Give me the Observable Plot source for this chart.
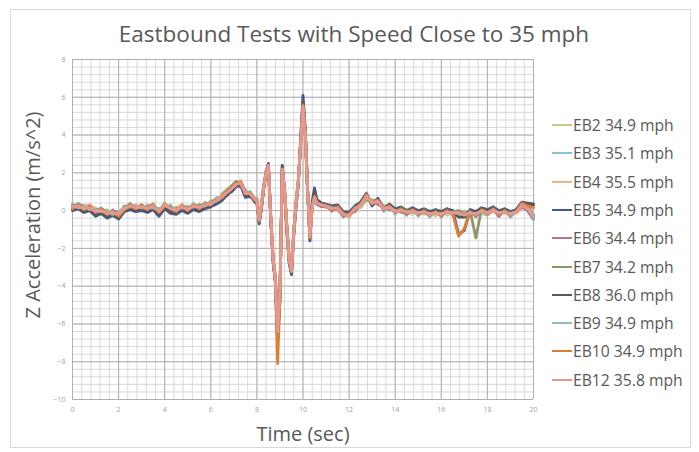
<!DOCTYPE html>
<html><head><meta charset="utf-8">
<script src="https://cdn.jsdelivr.net/npm/d3@7"></script>
<script src="https://cdn.jsdelivr.net/npm/@observablehq/plot@0.6"></script>
<style>
body{margin:0;background:#fff;font-family:"Open Sans",sans-serif;}
#wrap{position:relative;width:699px;height:452px;overflow:hidden;background:#fff;}
#frame{position:absolute;left:10px;top:9px;width:681px;height:439px;border:1px solid #d9d9d9;box-sizing:border-box;}
#chart{position:absolute;left:0;top:0;}
#title{position:absolute;left:354px;top:33px;transform:translate(-50%,-50%);font-size:22.5px;color:#595959;white-space:nowrap;}
#ylab{position:absolute;left:32px;top:215px;transform:translate(-50%,-50%) rotate(-90deg);font-size:20px;color:#595959;white-space:nowrap;}
#xlab{position:absolute;left:303px;top:433px;transform:translate(-50%,-50%);font-size:20px;color:#595959;white-space:nowrap;}
.leg{position:absolute;left:552px;height:20px;display:flex;align-items:center;font-size:15.7px;color:#595959;white-space:nowrap;transform:translateY(-50%);}
.leg span.sw{display:inline-block;width:20px;height:2px;margin-right:1px;}
</style></head>
<body>
<div id="wrap">
  <div id="frame"></div>
  <div id="chart"></div>
  <div id="title">Eastbound Tests with Speed Close to 35 mph</div>
  <div id="ylab">Z Acceleration (m/s^2)</div>
  <div id="xlab">Time (sec)</div>
  <div id="legend"></div>
</div>
<script>
const xTicks = [0,2,4,6,8,10,12,14,16,18,20];
const yTicks = [-10,-8,-6,-4,-2,0,2,4,6,8];
const seriesNames = ["EB2 34.9 mph","EB3 35.1 mph","EB4 35.5 mph","EB5 34.9 mph","EB6 34.4 mph","EB7 34.2 mph","EB8 36.0 mph","EB9 34.9 mph","EB10 34.9 mph","EB12 35.8 mph"];
const seriesColors = ["#c3cd86","#86c2de","#f2b484","#46588a","#b87490","#8d9868","#585858","#8cbcbc","#dc7f36","#e9968f"];

const times = [0,0.25,0.5,0.75,1,1.25,1.5,1.75,2,2.25,2.5,2.75,3,3.25,3.5,3.75,4,4.25,4.5,4.75,5,5.25,5.5,5.75,6,6.25,6.5,
 6.7,6.9,7.1,7.3,7.5,7.7,
 7.8,7.9,8,8.1,8.2,8.3,8.4,8.5,8.6,8.7,8.8,8.9,9,9.1,9.2,9.3,9.4,9.5,9.6,9.7,9.8,9.9,10,10.1,10.2,10.3,10.4,10.5,10.6,
 10.8,11,
 11.25,11.5,11.75,12,12.25,12.5,12.75,13,13.25,13.5,13.75,14,14.25,14.5,14.75,15,15.25,15.5,15.75,16,16.25,16.5,16.75,17,17.25,17.5,17.75,18,18.25,18.5,18.75,19,19.25,19.5,19.75,20];

const eb2 = [0.40,0.10,0.30,0.00,0.15,-0.20,0.05,-0.30,0.00,-0.05,0.40,0.00,0.35,-0.05,0.40,-0.20,0.45,-0.05,0.20,0.05,0.25,0.10,0.35,0.15,0.55,0.40,0.95,
 1.10,1.00,1.50,1.35,1.05,0.75,
 0.80,0.55,0.60,-0.40,0.20,1.20,1.90,2.20,-0.20,-2.40,-3.50,-6.00,-4.10,2.00,1.30,-0.70,-2.40,-3.00,-1.20,0.50,1.80,3.40,5.20,4.20,1.20,-1.20,0.30,0.60,0.50,
 0.35,0.20,
 0.25,0.00,-0.05,-0.40,0.25,0.15,0.55,0.60,0.30,0.25,0.00,0.10,-0.10,0.05,-0.20,0.00,-0.20,0.00,-0.30,0.05,-0.25,-0.05,-0.30,-0.10,-0.30,0.00,-0.15,-0.25,0.10,-0.30,0.05,-0.35,0.05,0.20,0.25,-0.45];
const eb3 = [0.05,0.40,-0.05,0.30,-0.20,0.15,-0.30,0.05,-0.35,0.25,0.10,0.30,0.05,0.30,0.10,0.10,0.15,0.30,-0.15,0.35,-0.10,0.40,0.00,0.45,0.20,0.70,0.60,
 0.85,1.30,1.30,1.55,0.80,1.00,
 0.70,0.65,0.50,-0.60,0.40,1.40,2.10,2.30,-0.40,-2.60,-3.70,-6.60,-4.50,2.30,1.00,-1.00,-2.70,-3.30,-1.00,0.30,1.50,3.70,5.60,3.90,0.90,-1.50,0.10,0.80,0.30,
 0.25,0.30,
 -0.05,0.30,-0.35,-0.10,-0.05,0.45,0.95,0.25,0.65,-0.05,0.35,-0.20,0.15,-0.25,0.15,-0.30,0.05,-0.35,0.05,-0.35,0.10,-0.25,0.00,-0.35,0.05,-0.35,0.10,-0.20,0.20,-0.30,0.10,-0.35,0.00,0.45,-0.05,-0.50];
const eb4 = [0.35,0.05,0.25,0.30,0.10,-0.15,0.00,-0.25,-0.05,0.20,0.15,0.30,0.05,0.25,0.35,-0.15,0.40,0.00,0.15,0.30,-0.05,0.35,0.05,0.40,0.25,0.45,0.85,
 1.05,1.05,1.45,1.60,0.95,0.80,
 0.85,0.50,0.65,-0.45,0.25,1.25,1.95,2.35,-0.25,-2.45,-3.55,-6.20,-4.20,2.10,1.20,-0.80,-2.50,-3.10,-1.15,0.45,1.70,3.50,5.40,4.10,1.10,-1.30,0.25,0.65,0.45,
 0.30,0.15,
 0.20,0.05,-0.10,-0.35,0.15,0.20,0.65,0.55,0.40,0.25,0.10,0.10,-0.05,0.00,0.10,-0.05,-0.15,-0.10,-0.20,-0.10,-0.15,0.00,-0.20,-0.15,-0.20,-0.05,-0.10,-0.20,-0.05,-0.05,-0.15,-0.05,-0.15,0.15,0.30,-0.20];
const eb5 = [0.00,0.10,-0.10,0.00,-0.30,-0.15,-0.40,-0.25,-0.45,-0.05,0.05,-0.05,0.00,-0.10,0.05,-0.30,0.10,-0.15,-0.20,0.00,-0.15,0.05,-0.05,0.10,0.20,0.35,0.55,
 0.85,1.00,1.25,1.30,0.70,0.75,
 0.65,0.45,0.40,-0.70,0.10,1.20,2.10,2.50,-0.50,-2.70,-3.80,-7.00,-4.80,2.40,0.90,-1.10,-2.80,-3.40,-1.30,0.20,1.40,3.90,6.10,4.30,1.20,-1.60,0.50,1.20,0.60,
 0.40,0.35,
 0.25,0.30,-0.05,-0.10,0.25,0.45,0.90,0.25,0.65,0.05,0.35,0.10,0.20,0.00,0.15,0.00,0.10,-0.05,0.05,-0.05,0.10,0.00,-1.25,-1.05,0.05,-0.05,0.15,0.05,0.20,0.00,0.10,-0.05,0.05,0.45,0.40,0.35];
const eb6 = [0.30,0.20,0.00,0.25,-0.15,0.10,-0.25,0.00,-0.10,0.00,0.35,0.05,0.30,0.00,0.20,0.05,0.20,0.20,-0.10,0.25,0.15,0.15,0.30,0.20,0.45,0.60,0.65,
 0.95,1.25,1.25,1.50,1.05,0.85,
 0.70,0.60,0.45,-0.55,0.35,1.35,1.85,2.25,-0.35,-2.55,-3.65,-6.30,-4.40,2.05,1.15,-0.85,-2.55,-3.15,-1.05,0.35,1.55,3.55,5.30,3.95,1.05,-1.35,0.15,0.75,0.35,
 0.20,0.25,
 0.00,0.10,-0.30,-0.15,-0.05,0.35,0.60,0.45,0.35,0.15,0.05,0.05,-0.05,-0.20,0.05,-0.20,-0.10,-0.25,-0.05,-0.30,0.00,-0.20,-0.10,-0.30,-0.05,-0.30,0.00,-0.20,0.05,-0.30,0.00,-0.25,-0.05,0.20,0.00,-0.40];
const eb7 = [0.15,0.35,0.20,0.05,0.05,0.10,-0.05,-0.15,-0.30,0.20,0.30,0.20,0.10,0.20,0.30,0.00,0.35,0.05,0.10,0.15,0.10,0.30,0.20,0.35,0.40,0.50,0.80,
 1.10,1.30,1.55,1.35,0.85,1.00,
 0.80,0.65,0.60,-0.45,0.30,1.30,2.05,2.35,-0.25,-2.45,-3.50,-6.10,-4.20,2.25,1.15,-0.85,-2.55,-3.10,-1.05,0.45,1.65,3.55,5.35,4.05,1.05,-1.30,0.25,0.75,0.45,
 0.35,0.30,
 0.20,0.25,-0.10,-0.15,0.20,0.40,0.65,0.50,0.60,0.20,0.30,0.05,0.15,0.00,0.10,-0.05,0.05,-0.10,0.00,-0.10,0.05,-0.05,0.00,-0.15,0.00,-1.45,0.10,0.00,0.15,-0.05,0.05,-0.10,0.00,0.35,0.20,-0.25];
const eb8 = [0.05,0.15,-0.05,0.05,-0.20,-0.10,-0.30,-0.15,-0.40,0.00,0.15,0.00,0.10,-0.05,0.15,-0.20,0.20,-0.05,-0.10,0.10,-0.05,0.15,0.05,0.20,0.25,0.45,0.60,
 0.80,1.10,1.35,1.40,0.80,0.85,
 0.70,0.55,0.45,-0.60,0.20,1.25,2.00,2.45,-0.40,-2.60,-3.70,-6.80,-4.60,2.35,1.00,-1.00,-2.70,-3.30,-1.20,0.30,1.50,3.75,5.80,4.20,1.10,-1.50,0.35,1.00,0.50,
 0.35,0.30,
 0.20,0.25,-0.10,-0.15,0.20,0.40,0.85,0.30,0.60,0.10,0.30,0.05,0.15,-0.05,0.10,-0.05,0.05,-0.10,0.00,-0.10,0.05,-0.05,-0.35,-0.35,0.00,-0.10,0.10,0.00,0.15,-0.05,0.05,-0.10,0.00,0.40,0.35,0.30];
const eb9 = [0.25,0.15,0.20,0.05,0.05,-0.05,-0.05,-0.20,-0.10,0.15,0.20,0.20,0.15,0.15,0.15,0.00,0.30,0.15,0.05,0.15,0.10,0.20,0.20,0.25,0.40,0.50,0.70,
 1.00,1.15,1.40,1.45,0.95,0.95,
 0.75,0.60,0.55,-0.50,0.30,1.30,2.00,2.40,-0.30,-2.50,-3.60,-6.40,-4.30,2.20,1.10,-0.90,-2.60,-3.20,-1.10,0.40,1.60,3.60,5.50,4.00,1.00,-1.40,0.20,0.70,0.40,
 0.30,0.25,
 0.15,0.10,-0.15,-0.30,0.15,0.25,0.70,0.45,0.45,0.15,0.15,0.00,0.00,-0.05,-0.05,-0.10,-0.10,-0.15,-0.15,-0.15,-0.10,-0.10,-0.15,-0.20,-0.15,-0.15,-0.05,-0.15,0.00,-0.10,-0.10,-0.15,-0.05,0.25,0.15,-0.30];
const eb10 = [0.10,0.30,0.05,0.20,-0.10,0.05,-0.20,-0.05,-0.30,0.05,0.25,0.10,0.25,0.05,0.30,-0.10,0.25,0.15,-0.05,0.25,0.00,0.30,0.10,0.35,0.30,0.60,0.70,
 1.00,1.20,1.45,1.50,0.90,0.90,
 0.75,0.55,0.50,-0.55,0.25,1.30,2.00,2.35,-0.35,-2.60,-3.70,-8.10,-4.50,2.20,1.05,-0.95,-2.65,-3.25,-1.15,0.40,1.60,3.60,5.60,4.05,1.00,-1.45,0.20,0.75,0.45,
 0.30,0.25,
 0.05,0.20,-0.20,-0.20,0.05,0.35,0.85,0.35,0.55,0.05,0.25,-0.10,0.10,-0.15,0.05,-0.20,0.00,-0.25,-0.05,-0.25,0.00,-0.20,-1.35,-0.95,-0.05,-0.25,0.05,-0.15,0.10,-0.20,0.00,-0.25,-0.05,0.40,0.25,0.15];
const eb12 = [0.20,0.25,0.10,0.15,-0.05,0.00,-0.15,-0.10,-0.20,0.10,0.25,0.15,0.20,0.10,0.25,-0.05,0.30,0.10,0.00,0.20,0.05,0.25,0.15,0.30,0.35,0.55,0.75,
 0.95,1.15,1.40,1.45,0.90,0.90,
 0.75,0.60,0.55,-0.50,0.30,1.30,2.00,2.40,-0.30,-2.50,-3.60,-6.40,-4.30,2.20,1.10,-0.90,-2.60,-3.20,-1.10,0.40,1.60,3.60,5.50,4.00,1.00,-1.40,0.20,0.70,0.40,
 0.30,0.25,
 0.10,0.15,-0.20,-0.25,0.10,0.30,0.75,0.40,0.50,0.10,0.20,-0.05,0.05,-0.10,0.00,-0.15,-0.05,-0.20,-0.10,-0.20,-0.05,-0.15,-0.10,-0.25,-0.10,-0.20,0.00,-0.10,0.05,-0.15,-0.05,-0.20,-0.10,0.30,0.10,-0.35];

const seriesValues = [eb2,eb3,eb4,eb5,eb6,eb7,eb8,eb9,eb10,eb12];

const rows = [];
seriesNames.forEach((name, i) => {
  seriesValues[i].forEach((v, j) => { if (j < times.length) rows.push({t: times[j], v, s: name}); });
});

const minorX = d3.range(0, 20.001, 0.4).map(d => +d.toFixed(2));
const minorY = d3.range(-10, 8.001, 0.4).map(d => +d.toFixed(2));

const chart = Plot.plot({
  width: 699, height: 452,
  marginLeft: 72, marginRight: 166, marginTop: 59, marginBottom: 53,
  style: {fontFamily: '"Open Sans", sans-serif', background: "transparent"},
  x: {domain: [0, 20]},
  y: {domain: [-10, 8]},
  color: {domain: seriesNames, range: seriesColors},
  marks: [
    Plot.gridX(minorX, {stroke: "#d9d9d9", strokeOpacity: 1, strokeWidth: 1}),
    Plot.gridY(minorY, {stroke: "#d9d9d9", strokeOpacity: 1, strokeWidth: 1}),
    Plot.gridX(xTicks, {stroke: "#b0b0b0", strokeOpacity: 1, strokeWidth: 1}),
    Plot.gridY(yTicks, {stroke: "#b0b0b0", strokeOpacity: 1, strokeWidth: 1}),
    Plot.axisX(xTicks, {tickSize: 0, tickPadding: 8, fontSize: 7, color: "#a0a0a0", label: null}),
    Plot.axisY(yTicks, {tickSize: 0, tickPadding: 7, fontSize: 7, color: "#a0a0a0", label: null}),
    Plot.line(rows, {x: "t", y: "v", z: "s", stroke: "s", strokeWidth: 2.8, strokeLinejoin: "round"})
  ]
});
document.getElementById("chart").appendChild(chart);

const leg = document.getElementById("legend");
seriesNames.forEach((name, i) => {
  const d = document.createElement("div");
  d.className = "leg";
  d.style.top = (125 + i * 28.3) + "px";
  d.innerHTML = `<span class="sw" style="background:${seriesColors[i]}"></span><span>${name}</span>`;
  leg.appendChild(d);
});
</script>
</body></html>
